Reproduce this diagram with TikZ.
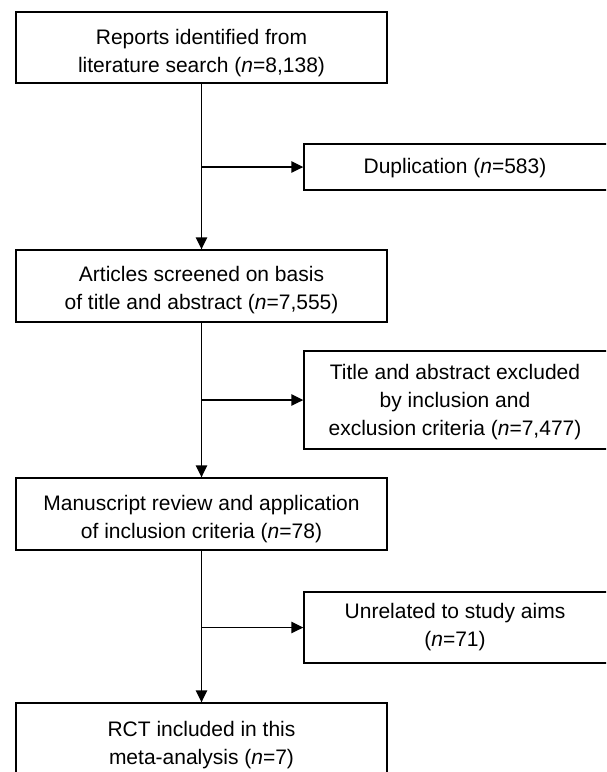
\documentclass[tikz,border=0pt]{standalone}
\usepackage{fontspec}
\setmainfont{Liberation Sans}
\usetikzlibrary{arrows.meta}
\begin{document}
\begin{tikzpicture}[x=1pt,y=-1pt,
  box/.style={draw=black, line width=1.4pt, rectangle, inner sep=0pt},
  mainbox/.style={box, minimum width=371pt, minimum height=72pt},
  sidebox/.style={box, minimum width=304pt},
  txt/.style={align=center, font=\fontsize{21}{28}\selectfont, inner sep=0pt, text=black},
  conn/.style={line width=1.4pt, draw=black, -{Triangle[length=12pt,width=11.5pt]}},
]
\useasboundingbox (0,0) rectangle (606,772);
\clip (0,0) rectangle (606,772);
\fill[white] (0,0) rectangle (606,772);

% main column boxes
\node[mainbox, minimum height=71pt] (b1) at (201.5,47.5) {};
\node[mainbox] (b2) at (201.5,286) {};
\node[mainbox] (b3) at (201.5,514) {};
\node[mainbox] (b4) at (201.5,739) {};

% side boxes
\node[sidebox, minimum height=46pt] (s1) at (456,167) {};
\node[sidebox, minimum height=98pt] (s2) at (456,400) {};
\node[sidebox, minimum height=71pt] (s3) at (456,627.5) {};

% texts
\node[txt] (t1) at ([yshift=-5.5pt]b1.center) {Reports identified from\\literature search (\textit{n}=8,138)};
\node[txt] (t2) at ([yshift=-4.5pt]b2.center) {Articles screened on basis\\of title and abstract (\textit{n}=7,555)};
\node[txt] (t3) at ([yshift=-5.5pt]b3.center) {Manuscript review and application\\of inclusion criteria (\textit{n}=78)};
\node[txt] (t4) at ([yshift=-6pt]b4.center) {RCT included in this\\meta-analysis (\textit{n}=7)};
\node[txt] (u1) at ([xshift=-1pt,yshift=-1pt]s1.center) {Duplication (\textit{n}=583)};
\node[txt] (u2) at ([xshift=-1pt,yshift=-2pt]s2.center) {Title and abstract excluded\\by inclusion and\\exclusion criteria (\textit{n}=7,477)};
\node[txt] (u3) at ([xshift=-1pt]s3.center) {Unrelated to study aims\\(\textit{n}=71)};

% junctions on main line
\coordinate (j1) at (b1.south |- s1.west);
\coordinate (j2) at (b1.south |- s2.west);
\coordinate (j3) at (b1.south |- s3.west);

% connectors
\draw[conn] (b1.south) -- (b2.north);
\draw[conn] (b2.south) -- (b3.north);
\draw[conn] (b3.south) -- (b4.north);
\draw[conn] (j1) -- (s1.west);
\draw[conn] (j2) -- (s2.west);
\draw[conn] (j3) -- (s3.west);
\end{tikzpicture}
\end{document}
